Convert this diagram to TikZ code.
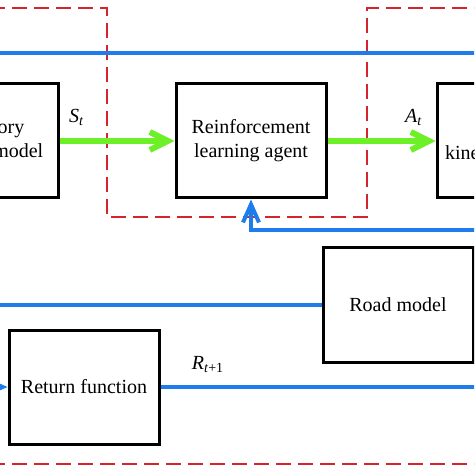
\documentclass[tikz,border=0pt]{standalone}
\usepackage{fontspec}
\setmainfont{Liberation Serif}
\usetikzlibrary{positioning, arrows.meta}
\definecolor{lineblue}{RGB}{30,125,235}
\definecolor{arrowgreen}{RGB}{110,240,40}
\definecolor{boxred}{RGB}{215,35,45}
\newcommand{\varsub}[2]{\textit{#1}\textsubscript{#2}}

\begin{document}
\begin{tikzpicture}[x=0.5pt, y=-0.5pt, >=latex,
		block/.style={draw, rectangle, line width=1.5pt, minimum width=75pt, minimum height=57pt, align=center},
		blueline/.style={draw=lineblue, line width=2pt},
		bluetip/.style={-{Straight Barb[length=9pt, width=8pt]}},
		greenarrow/.style={draw=arrowgreen, line width=3pt, -{Straight Barb[length=9pt, width=9pt]}},
		redbox/.style={draw=boxred, line width=1pt, dash pattern=on 7.5pt off 3.5pt}]
		\useasboundingbox (0,0) rectangle (474,474);
		\clip (0,0) rectangle (474,474);
		
		\node [block] (agent) at (251,141) {Reinforcement\\learning agent};
		\node [block, left of=agent, node distance=134pt] (traj) {Trajectory\\tracking model};
		\node [block, right of=agent, node distance=130.5pt] (kin) {Vehicle\\kinematic model};
		\node [block] (road) at (398,305) {Road model};
		\node [block] (ret) at (84,387) {Return function};
		
		\coordinate (topl) at (-10,53);
		\coordinate (topr) at (484,53);
		\coordinate (fbend) at (484,230);
		\coordinate (roadl) at (-10,305);
		\coordinate (retin) at (-40,387);
		\coordinate (retout) at (484,387);
		
		% dashed borders
		\draw [redbox] (-10,8) -- (107,8) -- (107,217) -- (367,217) -- (367,8) -- (484,8);
		\draw [redbox] (-10,464) -- (484,464);
		
		\draw [blueline] (topl) -- (topr);
		\draw [blueline, bluetip] (fbend) -| (agent.south);
		\draw [blueline] (roadl) -- (road.west);
		\draw [blueline, bluetip] (retin) -- (ret.west);
		\draw [blueline] (ret.east) -- node[pos=0.147, above=3pt] {\varsub{R}{\textit{t}+1}} (retout);
		
		\draw [greenarrow] (traj) -- node[pos=0.15, above=3pt] {\varsub{S}{\textit{t}}} (agent);
		\draw [greenarrow] (agent) -- node[pos=0.8, above=3pt] {\varsub{A}{\textit{t}}} (kin);
	\end{tikzpicture}
\end{document}
